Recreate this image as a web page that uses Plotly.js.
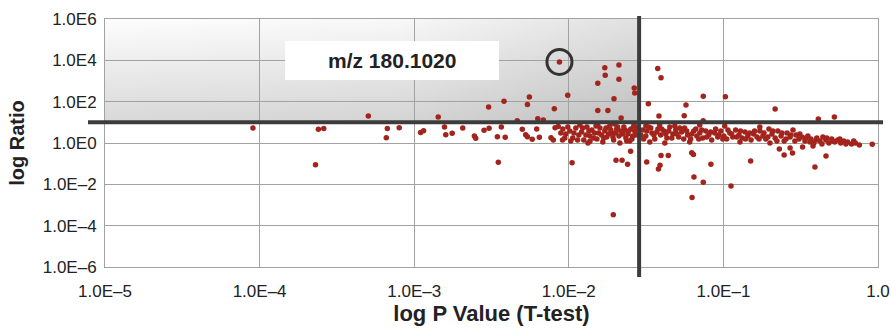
<!DOCTYPE html>
<html>
<head>
<meta charset="utf-8">
<script src="https://cdn.plot.ly/plotly-3.0.1.min.js"></script>
<style>html,body{margin:0;padding:0;background:#fff;}#chart{width:891px;height:331px;}</style>
</head>
<body>
<div id="chart"></div>
<script>
// Tick labels
const xTickVals = [1e-5, 1e-4, 1e-3, 1e-2, 1e-1, 1];
const xTickText = ["1.0E\u20135", "1.0E\u20134", "1.0E\u20133", "1.0E\u20132", "1.0E\u20131", "1.0"];
const yTickVals = [1e6, 1e4, 1e2, 1, 1e-2, 1e-4, 1e-6];
const yTickText = ["1.0E6", "1.0E4", "1.0E2", "1.0E0", "1.0E\u20132", "1.0E\u20134", "1.0E\u20136"];

// Thresholds
const pThreshold = 0.0285;
const ratioThreshold = 10;

// Highlighted feature
const mzLabel = "m/z 180.1020";
const mzP = 0.0087;
const mzRatio = 8400;

// Scattered features (p value, ratio)
const outlierP = [9.06e-5, 5.05e-4, 2.4e-4, 2.6e-4, 2.3e-4, 6.7e-4, 8.0e-4, 6.6e-4, 1.1e-3, 1.15e-3,
  1.43e-3, 1.57e-3, 1.6e-3, 1.76e-3, 2.06e-3, 2.45e-3, 2.5e-3, 2.83e-3, 3.05e-3, 3.03e-3,
  3.45e-3, 3.66e-3, 3.81e-3, 3.88e-3, 3.5e-3, 4.64e-3, 5.0e-3, 5.26e-3, 5.4e-3, 5.4e-3,
  5.56e-3, 5.8e-3, 6.2e-3, 6.3e-3, 6.45e-3, 6.84e-3, 7.67e-3, 7.94e-3, 8.06e-3, 8.15e-3,
  8.55e-3, 9.1e-3, 9.84e-3, 1.05e-2, 1.54e-2, 1.71e-2, 2.11e-2, 1.72e-2, 2.11e-2, 1.96e-2,
  2.65e-2, 2.67e-2, 1.54e-2, 1.79e-2, 2.18e-2, 3.76e-2, 3.95e-2, 3.27e-2, 3.83e-2, 5.73e-2,
  5.58e-2, 7.41e-2, 0.103, 0.216, 0.411, 0.522, 7.4e-2, 0.918, 0.461, 0.391,
  0.15, 8.3e-2, 6.24e-2, 6.4e-2, 2.51e-2, 2.02e-2, 2.21e-2, 2.4e-2, 1.94e-2, 3.19e-2,
  3.95e-2, 4.4e-2, 3.89e-2, 3.8e-2, 6.45e-2, 7.41e-2, 6.27e-2, 0.112, 1.37e-2, 0.23,
  0.247, 0.28, 0.27, 0.325, 0.38];
const outlierRatio = [5.3, 20, 4.6, 5.1, 0.089, 5.1, 5.5, 1.8, 3.2, 3.9,
  18, 6.0, 2.5, 2.95, 5.3, 2.2, 1.7, 4.1, 5.2, 55,
  2.0, 6.0, 105, 1.9, 0.116, 12, 4.6, 2.5, 2.0, 72,
  169, 1.5, 4.8, 15, 1.9, 13, 1.8, 1.4, 46, 5.5,
  6.2, 1.4, 204, 0.111, 780, 4400, 6000, 1900, 1200, 140,
  460, 265, 37, 37, 16, 4000, 1450, 80, 20, 69,
  21, 182, 174, 44, 14.5, 18, 12, 0.86, 0.235, 0.069,
  0.134, 0.093, 0.34, 0.28, 0.4, 0.145, 0.145, 0.093, 3.4e-4, 0.12,
  0.25, 0.25, 0.083, 0.055, 0.0226, 0.0125, 2.3e-3, 8.3e-3, 1.2, 0.51,
  0.26, 0.33, 0.57, 0.64, 0.72];

// Dense band left of the p threshold
const bandLeftP = [0.00915, 0.00956, 0.01015, 0.0106, 0.0111, 0.0116, 0.0121, 0.0125, 0.0131, 0.0137,
  0.0141, 0.0147, 0.0152, 0.0159, 0.0163, 0.0171, 0.0176, 0.0184, 0.0190, 0.0195,
  0.0204, 0.0211, 0.0217, 0.0227, 0.0234, 0.0241, 0.0252, 0.0259, 0.0267, 0.0275,
  0.0103, 0.0133, 0.0166, 0.0214, 0.0248, 0.0118, 0.0154, 0.0198,
  0.00888, 0.00942, 0.00985, 0.0108, 0.0114, 0.0123, 0.0129, 0.0135, 0.0145, 0.0150,
  0.0156, 0.0168, 0.0174, 0.0181, 0.0187, 0.0193, 0.0201, 0.0207, 0.0223, 0.0230,
  0.0237, 0.0244, 0.0256, 0.0263, 0.0271];
const bandLeftRatio = [4.8, 2.7, 3.8, 1.75, 5.3, 2.44, 3.4, 1.4, 6.0, 2.2,
  4.3, 3.05, 1.56, 5.3, 2.44, 3.8, 1.95, 6.7, 3.05, 1.4,
  4.8, 2.2, 3.8, 6.0, 1.75, 2.7, 4.8, 2.2, 3.8, 6.0,
  1.25, 1.0, 1.12, 1.0, 1.25, 7.4, 8.3, 8.3,
  3.05, 1.75, 6.0, 3.05, 1.4, 5.3, 2.44, 3.8, 1.75, 6.7,
  3.05, 1.75, 5.3, 2.7, 4.3, 1.95, 3.05, 6.0, 2.7, 4.3,
  1.25, 3.8, 1.56, 6.7, 2.44];

// Dense band right of the p threshold
const bandRightP = [0.0301, 0.0315, 0.0329, 0.0345, 0.0360, 0.0377, 0.0393, 0.0412, 0.0431, 0.0450,
  0.0471, 0.0492, 0.0514, 0.0537, 0.0561, 0.0587, 0.0614, 0.0643, 0.0673, 0.0703,
  0.0735, 0.0769, 0.0804, 0.0840, 0.0879, 0.0919, 0.0962, 0.1006, 0.105, 0.110,
  0.115, 0.120, 0.126, 0.132, 0.138, 0.144, 0.151, 0.157, 0.165, 0.172,
  0.180, 0.188, 0.197, 0.206, 0.216, 0.225, 0.236, 0.247, 0.258, 0.270,
  0.282, 0.295, 0.308, 0.322, 0.337, 0.352, 0.368, 0.385, 0.402, 0.421,
  0.440, 0.460, 0.481, 0.502, 0.525, 0.549, 0.574, 0.600, 0.636, 0.674,
  0.714, 0.757, 0.0315, 0.0387, 0.0485, 0.0703, 0.102, 0.172, 0.0334, 0.0418,
  0.0605, 0.128, 0.200,
  0.0292, 0.0305, 0.0320, 0.0339, 0.0355, 0.0371, 0.0399, 0.0424, 0.0443, 0.0464,
  0.0500, 0.0522, 0.0554, 0.0579, 0.0624, 0.0663, 0.0693, 0.0724, 0.0780, 0.0828,
  0.0891, 0.0934, 0.0991, 0.107, 0.113, 0.122, 0.129, 0.139, 0.148, 0.159,
  0.170, 0.183, 0.194, 0.209, 0.222, 0.239, 0.254, 0.273, 0.290, 0.312,
  0.342, 0.363, 0.397, 0.434, 0.467, 0.510, 0.566, 0.620, 0.696];
const bandRightRatio = [4.3, 2.2, 6.0, 3.05, 1.56, 4.8, 2.44, 3.8, 1.75, 6.0,
  2.7, 4.3, 1.95, 3.4, 5.3, 2.44, 1.56, 3.8, 2.2, 3.05,
  1.75, 3.8, 2.44, 1.4, 3.05, 1.95, 3.8, 2.2, 1.56, 3.05,
  1.95, 4.3, 2.44, 1.75, 3.4, 2.2, 1.4, 2.7, 1.95, 3.8,
  2.2, 1.56, 4.8, 2.7, 1.75, 3.8, 2.2, 1.25, 3.05, 1.95,
  4.3, 2.44, 1.56, 1.95, 1.25, 2.2, 1.56, 1.0, 1.75, 1.25,
  1.95, 1.4, 1.0, 1.56, 1.12, 1.4, 1.0, 1.25, 1.12, 0.89,
  1.0, 0.8, 6.7, 7.4, 6.7, 7.4, 6.7, 6.0, 1.12, 1.0,
  1.12, 1.12, 1.0,
  2.44, 1.56, 3.8, 5.3, 2.44, 3.4, 4.8, 2.7, 3.8, 1.75,
  2.7, 5.3, 1.56, 3.8, 2.7, 4.8, 1.56, 4.3, 1.95, 3.4,
  4.8, 2.44, 1.56, 4.3, 2.7, 1.95, 3.8, 1.56, 3.05, 3.8,
  1.56, 3.05, 1.95, 3.8, 1.25, 3.05, 1.56, 2.44, 1.25, 2.7,
  1.75, 1.12, 1.4, 0.89, 1.75, 1.25, 1.56, 0.89, 1.25];

const dotColor = '#a3241c';
const gridColor = '#a2a2a2';
const lineColor = '#3c3c3c';
const fontFam = '"Liberation Sans", Arial, Helvetica, sans-serif';

function dots(x, y) {
  return { type: 'scatter', mode: 'markers', x: x, y: y, hoverinfo: 'skip',
    marker: { color: dotColor, size: 5.5, line: { width: 0 } }, showlegend: false };
}

const traces = [
  dots(outlierP, outlierRatio),
  dots(bandLeftP, bandLeftRatio),
  dots(bandRightP, bandRightRatio),
  dots([mzP], [mzRatio]),
  { type: 'scatter', mode: 'markers', x: [mzP], y: [mzRatio], hoverinfo: 'skip', showlegend: false,
    marker: { symbol: 'circle-open', size: 25, color: '#333333', line: { color: '#333333', width: 3 } } }
];

// gradient panel for the upper-left quadrant
const svg = "<svg xmlns='http://www.w3.org/2000/svg' width='500' height='100' preserveAspectRatio='none' viewBox='0 0 500 100'>" +
  "<defs><linearGradient id='v' x1='0' y1='0' x2='0' y2='1'><stop offset='0' stop-color='#fdfdfd'/><stop offset='1' stop-color='#d8d8d8'/></linearGradient>" +
  "<linearGradient id='h' x1='0' y1='0' x2='1' y2='0'><stop offset='0' stop-color='#000' stop-opacity='0'/><stop offset='0.55' stop-color='#000' stop-opacity='0.02'/><stop offset='1' stop-color='#000' stop-opacity='0.11'/></linearGradient></defs>" +
  "<rect width='500' height='100' fill='url(#v)'/><rect width='500' height='100' fill='url(#h)'/></svg>";
const svgUri = 'data:image/svg+xml;charset=utf-8,' + encodeURIComponent(svg);

const xMinLog = -5, xMaxLog = 0, yMinLog = -6, yMaxLog = 6;
const panelW = (Math.log10(pThreshold) - xMinLog) / (xMaxLog - xMinLog);
const panelH = (yMaxLog - Math.log10(ratioThreshold)) / (yMaxLog - yMinLog);

const layout = {
  width: 891, height: 331,
  margin: { l: 105, r: 13, t: 19, b: 64, pad: 0 },
  paper_bgcolor: '#ffffff', plot_bgcolor: 'rgba(0,0,0,0)',
  font: { family: fontFam, color: '#222', size: 17 },
  showlegend: false,
  xaxis: {
    type: 'log', range: [xMinLog, xMaxLog],
    tickvals: xTickVals, ticktext: xTickText,
    showgrid: true, gridcolor: gridColor, gridwidth: 1,
    showline: true, linecolor: gridColor, linewidth: 1, mirror: true,
    zeroline: false, ticks: '', ticklabelstandoff: 9,
    tickfont: { size: 17, color: '#222' },
    title: { text: '<b>log P Value (T-test)</b>', font: { size: 22, color: '#222' }, standoff: 5 }
  },
  yaxis: {
    type: 'log', range: [yMinLog, yMaxLog],
    tickvals: yTickVals, ticktext: yTickText,
    showgrid: true, gridcolor: gridColor, gridwidth: 1,
    showline: true, linecolor: gridColor, linewidth: 1, mirror: true,
    zeroline: false, ticks: '', ticklabelstandoff: 4,
    tickfont: { size: 17, color: '#222' },
    title: { text: '<b>log Ratio</b>', font: { size: 20, color: '#222' }, standoff: 12 }
  },
  images: [{
    source: svgUri, xref: 'paper', yref: 'paper', x: 0, y: 1,
    sizex: panelW, sizey: panelH, sizing: 'stretch', xanchor: 'left', yanchor: 'top', layer: 'below'
  }],
  shapes: [
    { type: 'line', xref: 'paper', yref: 'y', x0: -0.022, x1: 1.0065, y0: ratioThreshold, y1: ratioThreshold,
      line: { color: lineColor, width: 4 }, layer: 'above' },
    { type: 'line', xref: 'x', yref: 'paper', x0: pThreshold, x1: pThreshold, y0: -0.04, y1: 1.012,
      line: { color: lineColor, width: 4 }, layer: 'above' },
    { type: 'rect', xref: 'paper', yref: 'paper', x0: 0.233, x1: 0.5097, y0: 0.754, y1: 0.911,
      fillcolor: '#ffffff', line: { width: 0 }, layer: 'above' }
  ],
  annotations: [{
    xref: 'paper', yref: 'paper', x: 0.3713, y: 0.8325, xanchor: 'center', yanchor: 'middle',
    text: '<b>' + mzLabel + '</b>', showarrow: false, font: { size: 21, color: '#222' }
  }]
};

Plotly.newPlot('chart', traces, layout, { displayModeBar: false, staticPlot: true });
</script>
</body>
</html>
